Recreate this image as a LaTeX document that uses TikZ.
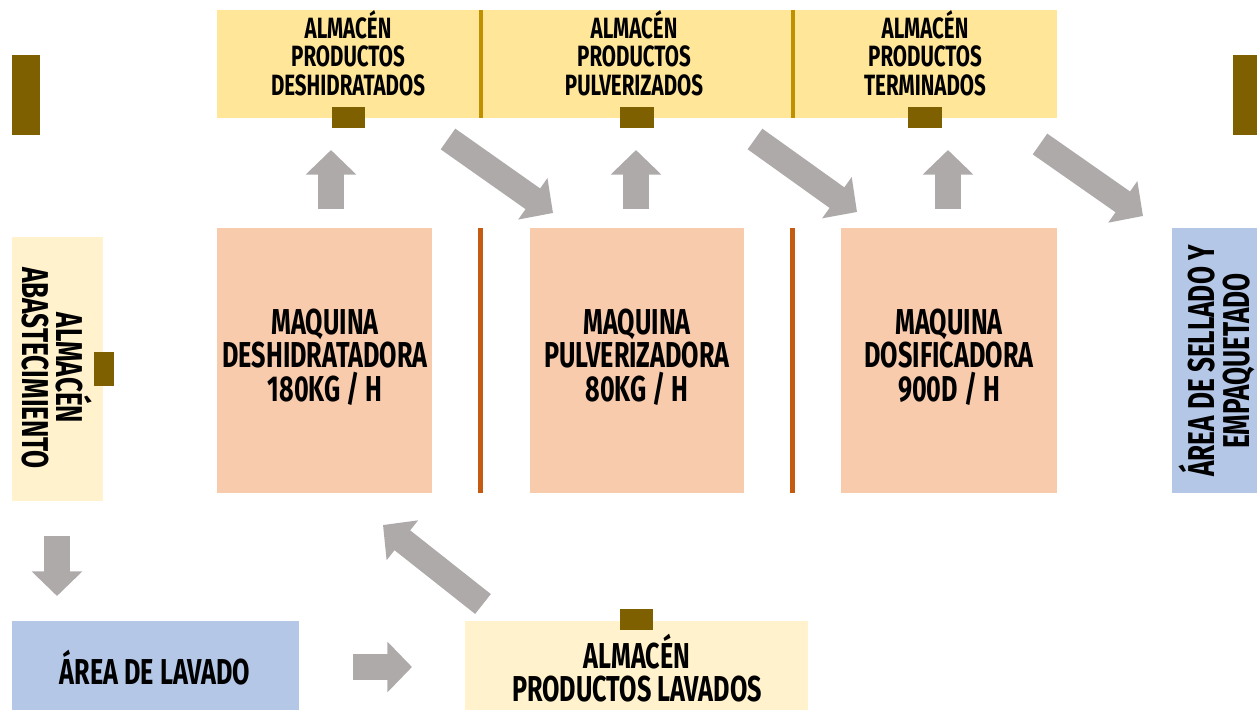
\documentclass[tikz,border=0pt]{standalone}
\usepackage{fontspec}
\setmainfont{Fira Sans}[FakeStretch=0.7]
\usetikzlibrary{arrows.meta}

\definecolor{bandyellow}{RGB}{255,230,153}
\definecolor{paleyellow}{RGB}{255,242,204}
\definecolor{bandgold}{RGB}{191,144,0}
\definecolor{darkbrown}{RGB}{127,96,0}
\definecolor{machinepeach}{RGB}{248,203,173}
\definecolor{rustorange}{RGB}{197,90,17}
\definecolor{areablue}{RGB}{180,199,231}
\definecolor{arrowgray}{RGB}{174,170,170}

\begin{document}
\begin{tikzpicture}[x=0.75pt,y=0.75pt,yscale=-1,xscale=1,
  flow/.style={draw=arrowgray,line width=19pt,-{Triangle[width=37pt,length=18.5pt]}},
  toplabel/.style={align=center,font=\fontsize{22}{21.5}\selectfont\bfseries},
  machlabel/.style={align=center,font=\fontsize{27}{25}\selectfont\bfseries},
  sidelabel/.style={align=center,font=\fontsize{28}{26}\selectfont\bfseries}]
%set diagram size
\useasboundingbox (0,0) rectangle (1257,710);

%Shape: Rectangle [top band]
\fill [bandyellow] (217,10) rectangle (1057,118) ;
\fill [bandgold] (479,10) rectangle (483,118) ;
\fill [bandgold] (791,10) rectangle (795,118) ;
%Shape: Rectangle [machines]
\fill [machinepeach] (217,228) rectangle (432,493) ;
\fill [machinepeach] (530,228) rectangle (744,493) ;
\fill [machinepeach] (841,228) rectangle (1057,493) ;
\fill [rustorange] (478,228) rectangle (483,493) ;
\fill [rustorange] (790,228) rectangle (795,493) ;
%Shape: Rectangle [side areas]
\fill [paleyellow] (12,237) rectangle (103,501) ;
\fill [areablue] (1172,228) rectangle (1257,493) ;
\fill [areablue] (12,621) rectangle (299,710) ;
\fill [paleyellow] (465,621) rectangle (808,710) ;
%Shape: Rectangle [brown markers]
\fill [darkbrown] (12,55) rectangle (40,135) ;
\fill [darkbrown] (1233,55) rectangle (1257,135) ;
\fill [darkbrown] (332,107) rectangle (365,128) ;
\fill [darkbrown] (620,107) rectangle (654,128) ;
\fill [darkbrown] (908,107) rectangle (942,128) ;
\fill [darkbrown] (94,352) rectangle (114,386) ;
\fill [darkbrown] (620,609) rectangle (653,630) ;

% Text Node
\node (deshid) [toplabel] at (348,53) {ALMACÉN\\PRODUCTOS\\DESHIDRATADOS};
% Text Node
\node (pulver) [toplabel] at (634,53) {ALMACÉN\\PRODUCTOS\\PULVERIZADOS};
% Text Node
\node (termin) [toplabel] at (925,53) {ALMACÉN\\PRODUCTOS\\TERMINADOS};
% Text Node
\node (mdeshid) [machlabel] at (325,357) {MAQUINA\\DESHIDRATADORA\\180KG / H};
% Text Node
\node (mpulver) [machlabel] at (637,357) {MAQUINA\\PULVERIZADORA\\80KG / H};
% Text Node
\node (mdosif) [machlabel] at (949,357) {MAQUINA\\DOSIFICADORA\\900D / H};
% Text Node
\node (abast) [sidelabel,rotate=-90] at (57,368) {ALMACÉN\\ABASTECIMIENTO};
% Text Node
\node (sellado) [sidelabel,rotate=90] at (1217,361) {ÁREA DE SELLADO Y\\EMPAQUETADO};
% Text Node
\node (lavado) [machlabel] at (155,668) {ÁREA DE LAVADO};
% Text Node
\node (lavados) [machlabel] at (637,668) {ALMACÉN\\PRODUCTOS LAVADOS};

%Arrows
\coordinate (up1s) at (331,209); \coordinate (up1e) at (331,150);
\coordinate (up2s) at (636,209); \coordinate (up2e) at (636,150);
\coordinate (up3s) at (948,209); \coordinate (up3e) at (948,150);
\coordinate (dr1s) at (448,139); \coordinate (dr1e) at (553,213);
\coordinate (dr2s) at (755,139); \coordinate (dr2e) at (857,212);
\coordinate (dr3s) at (1040,144); \coordinate (dr3e) at (1143,216);
\coordinate (dns) at (57,536); \coordinate (dne) at (57,596);
\coordinate (rts) at (353,667); \coordinate (rte) at (412,667);
\coordinate (uls) at (483,604); \coordinate (ule) at (383,525);
\draw [flow] (up1s) -- (up1e) ;
\draw [flow] (up2s) -- (up2e) ;
\draw [flow] (up3s) -- (up3e) ;
\draw [flow] (dr1s) -- (dr1e) ;
\draw [flow] (dr2s) -- (dr2e) ;
\draw [flow] (dr3s) -- (dr3e) ;
\draw [flow] (dns) -- (dne) ;
\draw [flow] (rts) -- (rte) ;
\draw [flow] (uls) -- (ule) ;

\end{tikzpicture}
\end{document}
